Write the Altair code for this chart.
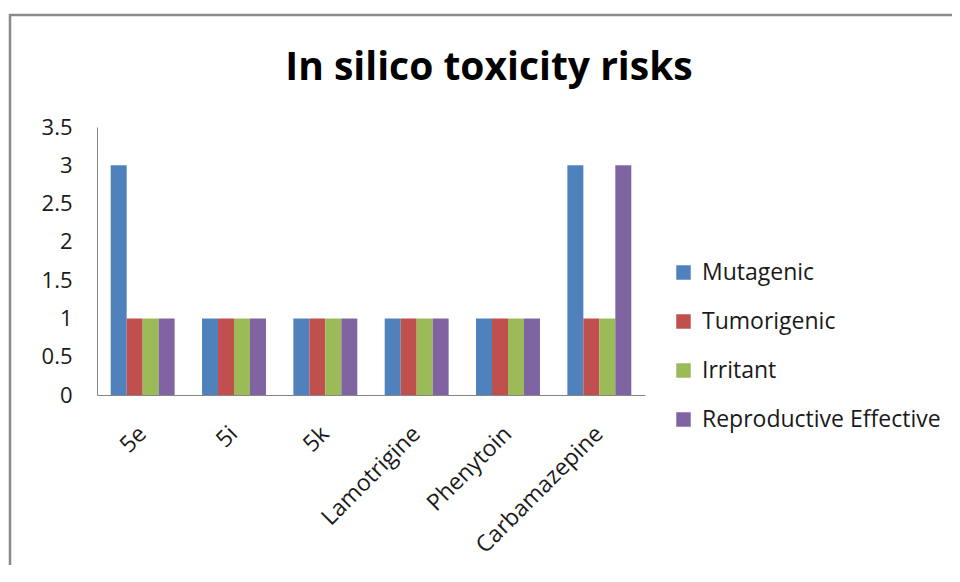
import altair as alt
import pandas as pd

categories = ["5e", "5i", "5k", "Lamotrigine", "Phenytoin", "Carbamazepine"]
series = ["Mutagenic", "Tumorigenic", "Irritant", "Reproductive Effective"]
mutagenic = [3, 1, 1, 1, 1, 3]
tumorigenic = [1, 1, 1, 1, 1, 1]
irritant = [1, 1, 1, 1, 1, 1]
reproductive = [1, 1, 1, 1, 1, 3]
colors = ["#4F81BD", "#C0504D", "#9BBB59", "#8064A2"]
y_ticks = [0, 0.5, 1, 1.5, 2, 2.5, 3, 3.5]
title_text = ["In silico toxicity risks"]

rows = []
for s, vals in zip(series, [mutagenic, tumorigenic, irritant, reproductive]):
    for c, v in zip(categories, vals):
        rows.append({"Compound": c, "Risk": s, "Value": v})
df = pd.DataFrame(rows)

FONT = "Open Sans"
W, H = 548, 268

bars = alt.Chart(df).mark_bar().encode(
    x=alt.X("Compound:N", sort=categories,
            scale=alt.Scale(paddingInner=0.3, paddingOuter=0.15),
            axis=alt.Axis(title=None, labelAngle=-45, labelAlign="right",
                          labelBaseline="middle", labelPadding=35, ticks=False,
                          labelFontSize=23, labelColor="#1a1a1a", labelFont=FONT,
                          domainColor="#868686", labelOverlap=False)),
    xOffset=alt.XOffset("Risk:N", sort=series,
                        scale=alt.Scale(paddingInner=0, paddingOuter=0)),
    y=alt.Y("Value:Q", scale=alt.Scale(domain=[0, 3.5], nice=False),
            axis=alt.Axis(title=None, values=y_ticks, format="~g", grid=False,
                          ticks=False, labelPadding=25, labelFontSize=22,
                          labelColor="#1a1a1a", labelFont=FONT,
                          domainColor="#868686")),
    color=alt.Color("Risk:N", sort=series,
                    scale=alt.Scale(domain=series, range=colors),
                    legend=alt.Legend(title=None, orient="none", legendX=575,
                                      legendY=134, symbolType="square",
                                      symbolSize=210, symbolStrokeWidth=0,
                                      labelFontSize=23, labelFont=FONT,
                                      labelColor="#1a1a1a", rowPadding=25,
                                      labelOffset=7, labelLimit=400)),
)

frame_df = pd.DataFrame({"a": [0]})
top_rule = alt.Chart(frame_df).mark_rule(color="#8a8a8a", strokeWidth=2.5).encode(
    x=alt.value(-88), x2=alt.value(900), y=alt.value(-112))
left_rule = alt.Chart(frame_df).mark_rule(color="#8a8a8a", strokeWidth=2.5).encode(
    x=alt.value(-87), y=alt.value(-113), y2=alt.value(470))

title = alt.Chart(pd.DataFrame({"t": title_text})).mark_text(
    font=FONT, fontSize=39, fontWeight="bold", color="#000000",
    align="center", baseline="alphabetic").encode(
    text="t:N", x=alt.value(392), y=alt.value(-47))

chart = alt.layer(top_rule, left_rule, title, bars).properties(
    width=W, height=H,
    background="white",
    autosize=alt.AutoSizeParams(type="none"),
    padding={"left": 89, "top": 119, "right": 307, "bottom": 170},
).configure_view(strokeWidth=0)

chart.save("out.html", embed_options={"renderer": "svg", "actions": False})
